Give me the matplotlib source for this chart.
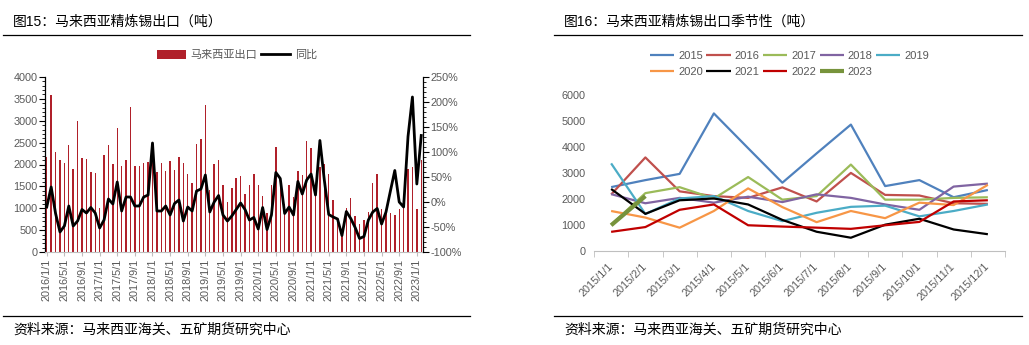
# -*- coding: utf-8 -*-
import numpy as np
import matplotlib
matplotlib.use('Agg')
import matplotlib.pyplot as plt
from matplotlib.lines import Line2D
from matplotlib.ticker import MultipleLocator, FixedLocator

plt.rcParams['font.family'] = ['Liberation Sans', 'Noto Sans CJK SC', 'DejaVu Sans']

# 马来西亚精炼锡月度出口（吨），2016/1 - 2023/2
exp_2016 = [2165, 3594, 2287, 2104, 2035, 2441, 1897, 2998, 2150, 2127, 1828, 1805]
exp_2017 = [1002, 2218, 2448, 2012, 2838, 1966, 2104, 3319, 1966, 1966, 2035, 2058]
exp_2018 = [2180, 1828, 2035, 1851, 2081, 1874, 2172, 2035, 1782, 1576, 2471, 2585]
exp_2019 = [3365, 1415, 2012, 2104, 1530, 1140, 1461, 1690, 1736, 1323, 1530, 1782]
exp_2020 = [1530, 1277, 887, 1530, 2401, 1680, 1100, 1530, 1254, 1851, 1759, 2539]
exp_2021 = [2379, 1420, 1943, 2012, 1782, 1186, 730, 500, 1002, 1232, 818, 635]
exp_2022 = [727, 911, 1576, 1782, 980, 930, 888, 842, 980, 1110, 1897, 1943]
exp_2023 = [980, 2104]
exp_2015 = [2450, 2720, 2960, 5290, 3950, 2620, 3750, 4860, 2490, 2720, 2060, 2340]

# 同比（%）
yoy = [-10, 30, -23, -60, -48, -8, -48, -38, -15, -22, -11, -22,
       -52, -36, 6, -4, 40, -18, 10, 10, -8, -8, 10, 14,
       118, -18, -18, -8, -26, -3, 4, -38, -10, -18, 22, 26,
       54, -20, 0, 13, -26, -38, -28, -15, -2, -15, -36, -31,
       -54, -11, -55, -26, 59, 47, -23, -10, -26, 41, 16, 44,
       56, 14, 123, 44, -25, -30, -34, -67, -19, -33, -51, -73,
       -69, -36, -20, -13, -44, -20, 22, 63, 0, -10, 131, 210,
       36, 133]

monthly = exp_2016 + exp_2017 + exp_2018 + exp_2019 + exp_2020 + exp_2021 + exp_2022 + exp_2023

left_xlabels = ['2016/1/1', '2016/5/1', '2016/9/1', '2017/1/1', '2017/5/1', '2017/9/1',
                '2018/1/1', '2018/5/1', '2018/9/1', '2019/1/1', '2019/5/1', '2019/9/1',
                '2020/1/1', '2020/5/1', '2020/9/1', '2021/1/1', '2021/5/1', '2021/9/1',
                '2022/1/1', '2022/5/1', '2022/9/1', '2023/1/1']

season_labels = ['2015/1/1', '2015/2/1', '2015/3/1', '2015/4/1', '2015/5/1', '2015/6/1',
                 '2015/7/1', '2015/8/1', '2015/9/1', '2015/10/1', '2015/11/1', '2015/12/1']
years = ['2015', '2016', '2017', '2018', '2019', '2020', '2021', '2022', '2023']
season = [exp_2015, exp_2016, exp_2017, exp_2018, exp_2019, exp_2020, exp_2021, exp_2022, exp_2023]
colors = ['#4F81BD', '#C0504D', '#9BBB59', '#8064A2', '#4BACC6', '#F79646', '#000000', '#C00000', '#77933C']

W, H = 1029., 345.
GREY = '#595959'


def fx(x):
    return x / W


def fy(y):
    return 1. - y / H


fig = plt.figure(figsize=(W / 100., H / 100.), dpi=100)

# 标题、分隔线、资料来源
for x0, x1, tx, title in [(3, 470, 13, '图15：马来西亚精炼锡出口（吨）'),
                          (554, 1022, 564, '图16：马来西亚精炼锡出口季节性（吨）')]:
    fig.text(fx(tx), fy(22), title, fontsize=10, va='center', ha='left')
    fig.add_artist(Line2D([fx(x0), fx(x1)], [fy(35), fy(35)], color='black', lw=0.9))
    fig.add_artist(Line2D([fx(x0), fx(x1)], [fy(316), fy(316)], color='black', lw=0.9))
    fig.text(fx(tx), fy(330), '资料来源：马来西亚海关、五矿期货研究中心', fontsize=10,
             va='center', ha='left')

# 图15：出口柱状 + 同比
ax1 = fig.add_axes([fx(45), fy(252), fx(423) - fx(45), fy(77) - fy(252)])
x = np.arange(len(monthly))
bars = ax1.bar(x, monthly, width=0.32, color='#B0202A', label='马来西亚出口')
ax1.set_xlim(-0.4, len(monthly) - 0.6)
ax1.set_ylim(0, 4000)
ax1.yaxis.set_major_locator(MultipleLocator(500))
ax1.yaxis.set_minor_locator(MultipleLocator(100))
ax1.set_xticks(np.arange(0, len(monthly), 4))
ax1.set_xticklabels(left_xlabels, rotation=90, fontsize=7.8, color=GREY)
ax1.tick_params(axis='y', which='major', direction='out', length=4, width=0.8,
                labelsize=7.8, labelcolor=GREY, pad=1.5)
ax1.tick_params(axis='y', which='minor', direction='out', length=2.5, width=0.6)
ax1.tick_params(axis='x', length=3, color='#BFBFBF', pad=2)
for s in ['top', 'right']:
    ax1.spines[s].set_visible(False)
ax1.spines['bottom'].set_color('#BFBFBF')
ax1.spines['left'].set_linewidth(0.9)

ax2 = ax1.twinx()
line, = ax2.plot(x, yoy, color='black', lw=2.0, label='同比')
ax2.set_ylim(-100, 250)
ax2.yaxis.set_major_locator(FixedLocator(np.arange(-100, 251, 50)))
ax2.yaxis.set_minor_locator(MultipleLocator(10))
ax2.set_yticklabels(['%d%%' % v for v in np.arange(-100, 251, 50)])
ax2.tick_params(axis='y', which='major', direction='out', length=4, width=0.8,
                labelsize=7.8, labelcolor=GREY, pad=1.5)
ax2.tick_params(axis='y', which='minor', direction='out', length=2.5, width=0.6)
for s in ['top', 'left', 'bottom']:
    ax2.spines[s].set_visible(False)
ax2.spines['right'].set_linewidth(0.9)

fig.legend([bars, line], ['马来西亚出口', '同比'], loc='center', ncol=2,
           bbox_to_anchor=(fx(237), fy(55)), frameon=False, fontsize=8,
           labelcolor=GREY, handlelength=2.6, handleheight=0.8, columnspacing=0.4,
           handletextpad=0.4)

# 图16：季节性
ax3 = fig.add_axes([fx(594), fy(250.7), fx(1005) - fx(594), fy(95) - fy(250.7)])
handles = []
for yr, vals, c in zip(years, season, colors):
    lw = 3.0 if yr == '2023' else 1.6
    h, = ax3.plot(np.arange(len(vals)), vals, color=c, lw=lw, label=yr,
                  solid_capstyle='butt')
    handles.append(h)
ax3.set_xlim(-0.5, 11.5)
ax3.set_ylim(0, 6000)
ax3.yaxis.set_major_locator(MultipleLocator(1000))
ax3.set_xticks(np.arange(12))
ax3.set_xticklabels(season_labels, rotation=45, ha='right', va='center',
                    rotation_mode='anchor', fontsize=7.8, color=GREY)
ax3.set_xticks(np.arange(-0.5, 12, 1), minor=True)
ax3.tick_params(axis='x', which='major', length=0, pad=10)
ax3.tick_params(axis='x', which='minor', length=4, color='#BFBFBF')
ax3.tick_params(axis='y', length=0, labelsize=7.8, labelcolor=GREY, pad=6)
for s in ['top', 'right', 'left']:
    ax3.spines[s].set_visible(False)
ax3.spines['bottom'].set_color('#BFBFBF')

order = [0, 5, 1, 6, 2, 7, 3, 8, 4]
fig.legend([handles[i] for i in order], [years[i] for i in order], loc='center left',
           ncol=5, bbox_to_anchor=(fx(640), fy(64)), frameon=False, fontsize=8,
           labelcolor=GREY, handlelength=2.2, columnspacing=0.3, handletextpad=0.35,
           labelspacing=0.6)

fig.savefig('out.png', dpi=100)
